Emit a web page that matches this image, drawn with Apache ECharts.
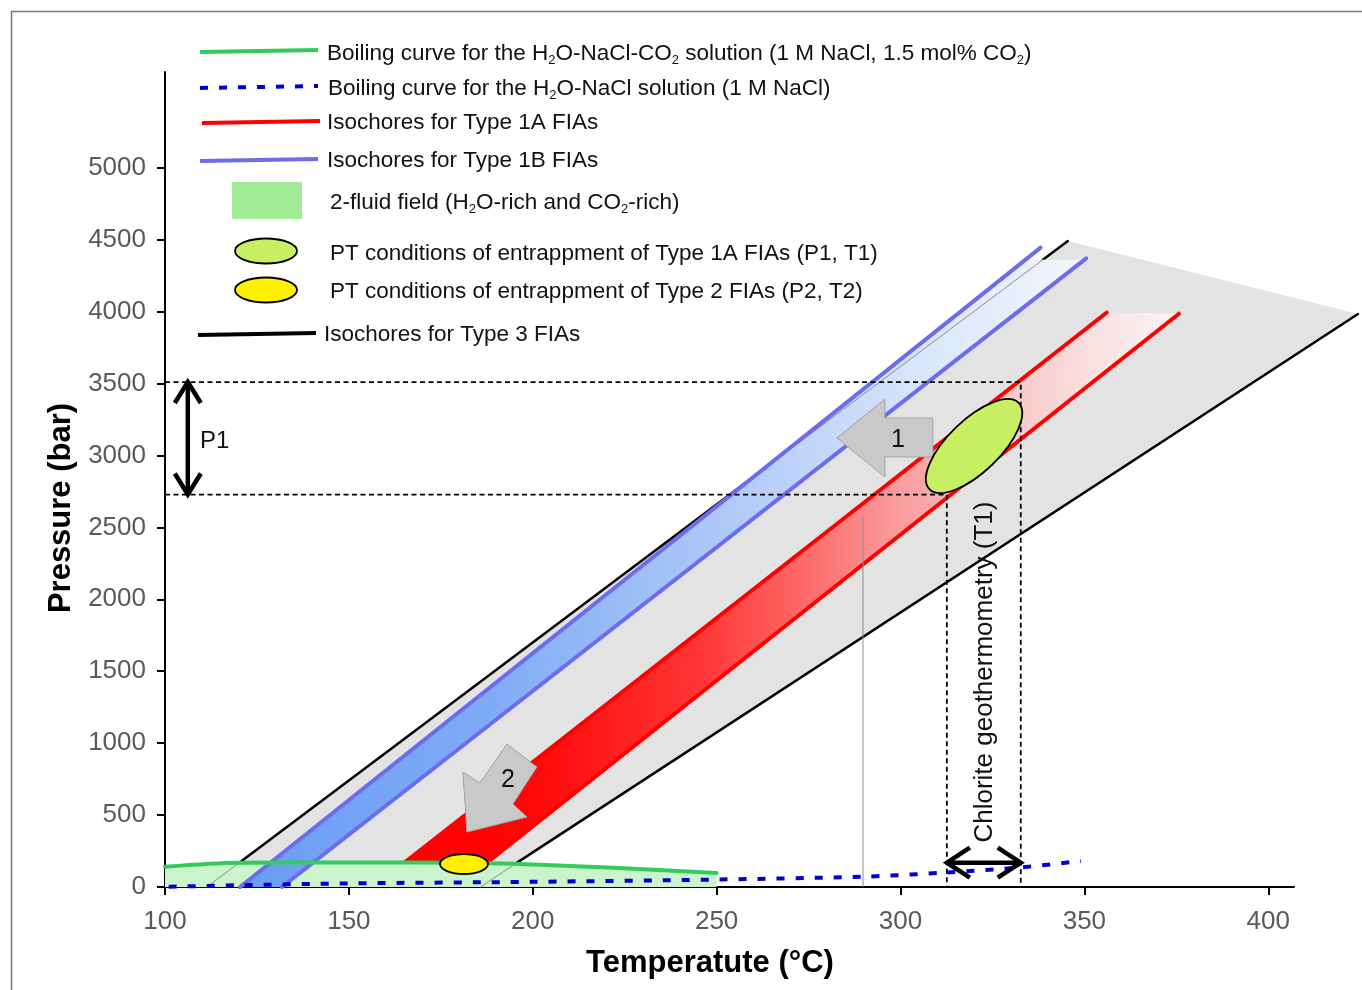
<!DOCTYPE html>
<html><head><meta charset="utf-8">
<script src="https://cdn.jsdelivr.net/npm/echarts@6/dist/echarts.min.js"></script>
<style>html,body{margin:0;padding:0;background:#fff}#c{width:1362px;height:990px}</style>
</head><body><div id="c"></div>
<script>
// ---------- data ----------
const xTicks = [100, 150, 200, 250, 300, 350, 400];
const yTicks = [0, 500, 1000, 1500, 2000, 2500, 3000, 3500, 4000, 4500, 5000];
// boiling curve H2O-NaCl-CO2 (T °C, P bar)
const boilingCO2 = [[100,141],[120,169],[150,171],[180,169],[195,161],[222,134],[250,98]];
// boiling curve H2O-NaCl
const boilingNaCl = [[101,2],[120,12],[150,25],[200,36],[250,52],[290,72],[312,100],[332,135],[349,180]];
// Type 3 isochores (break points where visibility changes)
const type3Left = [[111.4,0],[120.2,169],[259.4,2840],[338.7,4360],[345.5,4490]];
const type3Right = [[185.8,0],[195.0,157],[424.4,3983]];
const type3Field = [[111.4,0],[345.5,4490],[424.4,3983],[185.8,0]];
// Type 1B isochores
const type1BLeft = [[120.4,0],[338.1,4444]];
const type1BRight = [[131.8,0],[350.5,4370]];
const type1BBand = [[120.4,0],[334.0,4360],[350.0,4360],[131.8,0]];
// Type 1A isochores
const type1ALeft = [[165.3,174],[356.1,3993]];
const type1ARight = [[187.8,174],[375.7,3985]];
const type1ABand = [[165.3,174],[356.1,3993],[375.7,3985],[187.8,174]];
// entrapment conditions
const entrapment1A = [320.0, 3065];
const entrapment2 = [181.3, 160];
// P1 / T1 ranges
const p1Range = [2728, 3510];
const t1Range = [312.6, 332.7];
const p1ArrowT = 106.2;
const t1ArrowP = 169;
const thinGuide = [[289.8,0],[289.8,2579]];
const arrow1Tip = [282.7, 3121];
const arrow2Tip = [182.1, 382];
const p1LabelPos = [109.5, 3095];
const chloriteLabelPos = [323.0, 1494];

// ---------- helpers ----------
const FONT = 'Liberation Sans, Arial, sans-serif';
function lineSeries(data, color, width, z, extra) {
  return Object.assign({
    type: 'line', data: data, z: z, silent: true, showSymbol: false, symbol: 'none',
    clip: false, animation: false,
    lineStyle: { color: color, width: width, cap: 'round' }
  }, extra || {});
}
function customSeries(z, renderItem) {
  return { type: 'custom', z: z, silent: true, clip: false, animation: false,
    data: [[100, 0]], renderItem: renderItem };
}
function polySeries(pts, fill, z) {
  return customSeries(z, function (params, api) {
    return { type: 'polygon', shape: { points: pts.map(p => api.coord(p)) }, style: { fill: fill } };
  });
}
function polylineSeries(pts, color, width, z) {
  return customSeries(z, function (params, api) {
    return { type: 'polyline', shape: { points: pts.map(p => api.coord(p)) },
      style: { stroke: color, lineWidth: width, fill: null, lineCap: 'round' } };
  });
}
const blueGrad = new echarts.graphic.LinearGradient(0, 0, 1, 0, [
  { offset: 0, color: '#689cf4' }, { offset: 0.3, color: '#80acf5' },
  { offset: 0.6, color: '#b3ccf8' }, { offset: 0.8, color: '#d8e5f9' }, { offset: 1, color: '#f4f6fb' }]);
const redGrad = new echarts.graphic.LinearGradient(0, 0, 1, 0, [
  { offset: 0, color: '#ff0000' }, { offset: 0.15, color: '#ff0505' }, { offset: 0.38, color: '#ff3535' },
  { offset: 0.51, color: '#fe6666' }, { offset: 0.64, color: '#fa9d9d' }, { offset: 0.77, color: '#f8c6c6' },
  { offset: 0.9, color: '#fae2e2' }, { offset: 1, color: '#fcf4f4' }]);

const series = [];
// gray field of type 3 isochores
series.push(polySeries(type3Field, '#e3e3e3', 1));
// type 3 black lines (visible parts) and thin parts
series.push(polylineSeries([type3Left[1], type3Left[2]], '#000', 2.5, 2));
series.push(polylineSeries([type3Left[3], type3Left[4]], '#000', 2.5, 2));
series.push(polylineSeries([type3Right[1], type3Right[2]], '#000', 2.5, 2));
// 2-fluid field
series.push(lineSeries(boilingCO2, '#ccf4cc', 0, 3, { areaStyle: { color: '#ccf4cc', opacity: 1 }, smooth: 0.3 }));
series.push(polylineSeries([type3Left[0], type3Left[1]], '#8c8c8c', 1, 4));
series.push(polylineSeries([type3Right[0], type3Right[1]], '#8c8c8c', 1, 4));
// type 1B band
series.push(polySeries(type1BBand, blueGrad, 5));
series.push(polylineSeries([type3Left[2], type3Left[3]], '#8c8c8c', 1, 6));
series.push(lineSeries(type1BLeft, '#6c6cec', 4, 6));
series.push(lineSeries(type1BRight, '#6c6cec', 4, 6));
// type 1A band
series.push(polySeries(type1ABand, redGrad, 5));
series.push(lineSeries(type1ALeft, '#ff0000', 4, 6));
series.push(lineSeries(type1ARight, '#ff0000', 4, 6));
// thin vertical guide
series.push(lineSeries(thinGuide, '#8c8c8c', 1, 7, { lineStyle: { color: '#8c8c8c', width: 1, cap: 'butt' } }));
// boiling curves
series.push(lineSeries(boilingCO2, '#33cc5c', 4, 7, { smooth: 0.3 }));
series.push(lineSeries(boilingNaCl, '#0000c8', 4, 8, { smooth: 0.3,
  lineStyle: { color: '#0000c8', width: 4, type: [8, 11], cap: 'butt' } }));
// dashed P1/T1 guides
const dashStyle = { color: '#000', width: 1.8, type: [5, 3.5], cap: 'butt' };
series.push(lineSeries([[100, p1Range[1]], [t1Range[1], p1Range[1]], [t1Range[1], 0]], '#000', 1.8, 9, { lineStyle: dashStyle }));
series.push(lineSeries([[100, p1Range[0]], [t1Range[0], p1Range[0]], [t1Range[0], 0]], '#000', 1.8, 9, { lineStyle: dashStyle }));
// double arrows
series.push(customSeries(10, function (params, api) {
  const a = api.coord([p1ArrowT, p1Range[1]]), b = api.coord([p1ArrowT, p1Range[0]]);
  const c = api.coord([t1Range[0], t1ArrowP]), d = api.coord([t1Range[1], t1ArrowP]);
  const st = { stroke: '#000', lineWidth: 4.5, fill: null, lineJoin: 'miter' };
  return { type: 'group', children: [
    { type: 'line', shape: { x1: a[0], y1: a[1] + 2, x2: b[0], y2: b[1] - 2 }, style: st },
    { type: 'polyline', shape: { points: [[a[0] - 13, a[1] + 21], [a[0], a[1]], [a[0] + 13, a[1] + 21]] }, style: st },
    { type: 'polyline', shape: { points: [[b[0] - 13, b[1] - 21], [b[0], b[1]], [b[0] + 13, b[1] - 21]] }, style: st },
    { type: 'line', shape: { x1: c[0] + 2, y1: c[1], x2: d[0] - 2, y2: d[1] }, style: st },
    { type: 'polyline', shape: { points: [[c[0] + 23, c[1] - 15], [c[0], c[1]], [c[0] + 23, c[1] + 15]] }, style: st },
    { type: 'polyline', shape: { points: [[d[0] - 23, d[1] - 15], [d[0], d[1]], [d[0] - 23, d[1] + 15]] }, style: st }
  ] };
}));
// gray block arrows
function blockArrow(tip, offs, labelOff, label) {
  return customSeries(10, function (params, api) {
    const t = api.coord(tip);
    return { type: 'group', children: [
      { type: 'polygon', shape: { points: offs.map(o => [t[0] + o[0], t[1] + o[1]]) },
        style: { fill: '#c9c9c9', stroke: '#a3a3a3', lineWidth: 1 } },
      { type: 'text', x: t[0] + labelOff[0], y: t[1] + labelOff[1],
        style: { text: label, fontSize: 25, fontFamily: FONT, fill: '#111', align: 'center', verticalAlign: 'middle' } }
    ] };
  });
}
series.push(blockArrow(arrow1Tip, [[0,0],[48,-39],[48,-20],[96,-20],[96,19],[48,19],[48,39]], [61, 2], '1'));
series.push(blockArrow(arrow2Tip, [[0,0],[-4,-60],[13,-49],[40,-88],[70,-65],[46,-28],[60,-15]], [41, -52], '2'));
// ellipses
series.push(customSeries(11, function (params, api) {
  const e1 = api.coord(entrapment1A), e2 = api.coord(entrapment2);
  return { type: 'group', children: [
    { type: 'ellipse', x: e1[0], y: e1[1], rotation: 44 * Math.PI / 180,
      shape: { cx: 0, cy: 0, rx: 62, ry: 26 }, style: { fill: '#c8ee62', stroke: '#000', lineWidth: 1.8 } },
    { type: 'ellipse', shape: { cx: e2[0], cy: e2[1], rx: 24, ry: 10 }, style: { fill: '#fff000', stroke: '#000', lineWidth: 1.8 } }
  ] };
}));
// texts in plot
series.push(customSeries(12, function (params, api) {
  const p = api.coord(p1LabelPos), q = api.coord(chloriteLabelPos);
  return { type: 'group', children: [
    { type: 'text', x: p[0], y: p[1], style: { text: 'P1', fontSize: 24, fontFamily: FONT, fill: '#111', align: 'left', verticalAlign: 'middle' } },
    { type: 'text', x: q[0], y: q[1], rotation: Math.PI / 2,
      style: { text: 'Chlorite geothermometry (T1)', fontSize: 26, fontFamily: FONT, fill: '#111', align: 'center', verticalAlign: 'middle' } }
  ] };
}));

// ---------- legend (graphic) ----------
const legRich = {
  n: { fontSize: 22.5, fontFamily: FONT, fill: '#111', lineHeight: 26 },
  s: { fontSize: 13, fontFamily: FONT, fill: '#111', lineHeight: 15, verticalAlign: 'bottom' }
};
function legText(x, y, txt) {
  return { type: 'text', x: x, y: y, z: 100, style: { text: txt, rich: legRich, verticalAlign: 'middle', align: 'left' } };
}
function legLine(y, color, dash, x1) {
  const s = { stroke: color, lineWidth: 4 };
  if (dash) { s.lineDash = dash; }
  return { type: 'line', z: 100, shape: { x1: x1 || 200, y1: y + 1, x2: (x1 || 200) + 118, y2: y - 1 }, style: s };
}
const graphic = [
  { type: 'rect', z: 0, shape: { x: 11.5, y: 11.5, width: 1400, height: 1000 }, style: { fill: null, stroke: '#777', lineWidth: 1.5 } },
  legLine(51, '#33cc5c'),
  legText(327, 54, '{n|Boiling curve for the H}{s|2}{n|O-NaCl-CO}{s|2}{n| solution (1 M NaCl, 1.5 mol% CO}{s|2}{n|)}'),
  legLine(87, '#0000c8', [8, 11]),
  legText(328, 89, '{n|Boiling curve for the H}{s|2}{n|O-NaCl solution (1 M NaCl)}'),
  legLine(122, '#ff0000', null, 202),
  legText(327, 123, '{n|Isochores for Type 1A FIAs}'),
  legLine(160, '#6c6cec'),
  legText(327, 161, '{n|Isochores for Type 1B FIAs}'),
  { type: 'rect', z: 100, shape: { x: 232, y: 182, width: 70, height: 37 }, style: { fill: '#a2ec98' } },
  legText(330, 203, '{n|2-fluid field (H}{s|2}{n|O-rich and CO}{s|2}{n|-rich)}'),
  { type: 'ellipse', z: 100, shape: { cx: 266, cy: 251, rx: 31, ry: 12.5 }, style: { fill: '#c8ee62', stroke: '#000', lineWidth: 1.8 } },
  legText(330, 254, '{n|PT conditions of entrappment of Type 1A FIAs (P1, T1)}'),
  { type: 'ellipse', z: 100, shape: { cx: 266, cy: 290, rx: 31, ry: 12.5 }, style: { fill: '#fff000', stroke: '#000', lineWidth: 1.8 } },
  legText(330, 292, '{n|PT conditions of entrappment of Type 2 FIAs (P2, T2)}'),
  legLine(334, '#000', null, 198),
  legText(324, 335, '{n|Isochores for Type 3 FIAs}'),
  // axis titles
  { type: 'text', x: 710, y: 963, z: 100, style: { text: 'Temperatute (°C)', fontSize: 31, fontWeight: 'bold', fontFamily: FONT, fill: '#000', align: 'center', verticalAlign: 'middle' } },
  { type: 'text', x: 61, y: 508, z: 100, rotation: Math.PI / 2, style: { text: 'Pressure (bar)', fontSize: 31, fontWeight: 'bold', fontFamily: FONT, fill: '#000', align: 'center', verticalAlign: 'middle' } }
];

const axisLabelStyle = { color: '#595959', fontSize: 26, fontFamily: FONT, formatter: function (v) { return String(v); } };
const option = {
  animation: false,
  backgroundColor: '#fff',
  grid: { left: 165, right: 68, top: 72, bottom: 103, containLabel: false, outerBoundsMode: 'none' },
  xAxis: {
    type: 'value', min: 100, max: 407, interval: 50,
    axisLine: { show: true, onZero: false, lineStyle: { color: '#000', width: 2 } },
    axisTick: { show: true, length: 8, lineStyle: { color: '#000', width: 2 }, customValues: xTicks },
    axisLabel: Object.assign({ margin: 22, customValues: xTicks }, axisLabelStyle),
    splitLine: { show: false }
  },
  yAxis: {
    type: 'value', min: 0, max: 5665, interval: 500,
    axisLine: { show: true, onZero: false, lineStyle: { color: '#000', width: 2 } },
    axisTick: { show: true, length: 8, lineStyle: { color: '#000', width: 2 }, customValues: yTicks },
    axisLabel: Object.assign({ margin: 19, customValues: yTicks }, axisLabelStyle),
    splitLine: { show: false }
  },
  graphic: graphic,
  series: series
};
const chart = echarts.init(document.getElementById('c'), null, { renderer: 'canvas' });
chart.setOption(option);
</script>
</body></html>
